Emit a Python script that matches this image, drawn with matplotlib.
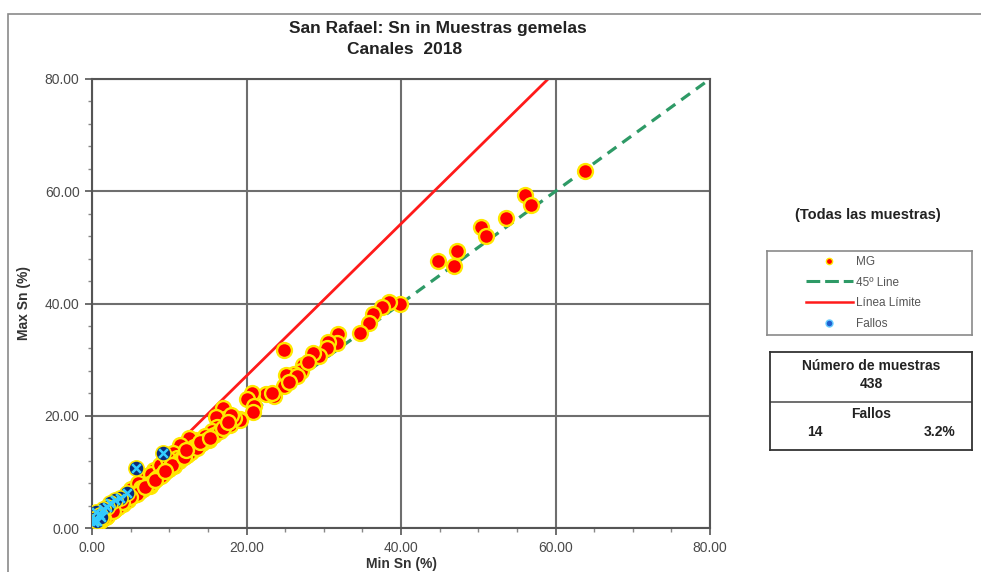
"""Sn en muestras gemelas (San Rafael, Canales 2018): dispersión Min vs Max."""

import matplotlib.pyplot as plt
from matplotlib.lines import Line2D
from matplotlib.patches import Rectangle
from matplotlib.ticker import MultipleLocator, FormatStrFormatter

plt.rcParams["font.family"] = ["Liberation Sans", "DejaVu Sans"]

# pares gemelos (min, max) de Sn en %
mg_min = [63.8, 56.1, 56.8, 53.6, 50.4, 51.0, 47.3, 44.8, 46.9, 39.9, 38.4, 37.5,
          36.4, 35.8, 34.7, 31.9, 31.7, 30.6, 30.4, 29.4, 28.6, 24.8, 27.3, 27.0,
          26.1, 25.1, 24.8, 23.5, 22.5, 20.7, 20.0, 21.0, 20.8, 19.2, 17.0, 17.2,
          16.1, 17.9, 16.2, 15.5, 15.1, 13.3, 12.5, 13.2, 11.8, 12.3, 23.3, 19.2,
          11.4, 10.5, 8.2, 9.7, 11.0, 7.5, 6.0, 28.0, 26.5, 25.5,
          10.0, 10.8, 9.0, 8.6, 9.4, 7.9, 7.2, 6.8, 6.5, 7.0, 8.0, 5.6, 5.2, 4.8,
          4.2, 3.8, 3.2, 2.8, 2.4, 2.0, 1.6, 1.2, 0.8, 0.5, 0.2, 0.1, 0.4, 1.0,
          1.5, 2.6, 3.5, 4.4, 5.0, 5.9, 6.3, 7.6, 8.8, 9.8, 10.2, 11.2, 12.0, 12.8,
          13.8, 14.2, 14.6, 15.8, 16.6, 18.4, 18.0, 13.0, 3.0, 4.0, 5.4, 6.6, 9.2,
          1.8, 2.2,
          6.2, 7.4, 8.4, 9.6, 10.6, 11.6, 12.6, 4.6, 3.4, 2.0, 1.0, 0.6, 5.8, 7.8,
          8.9, 10.4, 11.9, 13.6, 14.9, 4.9, 3.9, 2.7, 1.4, 0.3, 6.9, 8.1, 9.5, 12.2,
          14.0, 15.3, 16.9, 17.6]
mg_max = [63.6, 59.3, 57.5, 55.2, 53.6, 52.0, 49.4, 47.6, 46.7, 39.9, 40.3, 39.4,
          38.2, 36.6, 34.8, 34.5, 33.0, 33.2, 32.0, 30.6, 31.2, 31.8, 29.0, 28.0,
          27.4, 27.3, 25.3, 23.5, 23.9, 24.0, 22.9, 21.7, 20.7, 19.4, 21.3, 19.5,
          19.7, 18.4, 18.0, 17.2, 15.7, 15.7, 16.0, 14.5, 13.9, 13.0, 24.0, 19.2,
          14.8, 13.3, 9.1, 11.2, 12.4, 7.4, 6.8, 29.5, 27.0, 26.0,
          10.6, 11.5, 10.0, 9.6, 10.8, 8.8, 8.3, 7.6, 8.2, 9.2, 10.4, 6.4, 6.0, 5.4,
          4.8, 4.4, 3.8, 3.2, 2.8, 2.3, 1.9, 1.5, 1.0, 0.6, 0.3, 0.1, 0.9, 1.6,
          2.5, 3.6, 4.9, 5.9, 7.0, 8.0, 7.1, 9.6, 11.3, 12.3, 11.0, 12.0, 12.8, 13.6,
          14.8, 15.1, 16.4, 16.6, 17.2, 19.6, 20.2, 14.0, 3.3, 4.3, 5.8, 7.0, 9.6,
          2.0, 2.6,
          6.6, 7.9, 8.9, 10.2, 11.1, 12.4, 13.3, 5.0, 3.7, 2.2, 1.2, 0.8, 6.1, 8.1,
          9.3, 11.3, 12.7, 14.3, 15.6, 5.5, 4.6, 3.0, 1.7, 0.5, 7.3, 8.6, 10.1, 13.9,
          15.4, 16.1, 17.8, 18.9]

# pares fuera de la línea límite
fallo_min = [9.2, 5.7, 4.5, 3.6, 3.0, 2.3, 1.9, 1.4, 0.5, 1.0, 0.3, 0.2, 0.6, 1.2]
fallo_max = [13.3, 10.7, 6.3, 5.3, 4.9, 4.5, 3.8, 3.3, 2.9, 2.3, 1.6, 1.0, 1.3, 1.9]

limite_pendiente = 1.355
eje_max = 80.0

n_muestras = 438
n_fallos = 14
pct_fallos = 3.2

W, H = 981, 572
fig = plt.figure(figsize=(W / 100, H / 100), dpi=100)


def fx(px):
    return px / W


def fy(py):
    return 1 - py / H


# marco exterior del gráfico
fig.patches.append(Rectangle((fx(8), -0.05), 1.1, fy(14) + 0.05, transform=fig.transFigure,
                             fill=False, edgecolor="#8a8a8a", linewidth=1.2))

ax = fig.add_axes([fx(92), fy(528), fx(710) - fx(92), fy(79) - fy(528)])

gris = "#555555"
ax.plot([0, eje_max], [0, eje_max], color="#2e9a66", linewidth=2.3,
        dashes=(3.4, 2.3), zorder=2)
ax.plot([0, eje_max / limite_pendiente], [0, eje_max], color="#ff1a1a",
        linewidth=2.0, zorder=2)
ax.scatter(mg_min, mg_max, s=115, facecolor="#ff0000", edgecolor="#ffe800",
           linewidth=1.7, zorder=3)
ax.scatter(fallo_min, fallo_max, s=120, facecolor="#0b2a7a", edgecolor="#ffe800",
           linewidth=1.2, zorder=4)
ax.scatter(fallo_min, fallo_max, s=40, marker="x", color="#33ccff",
           linewidth=1.8, zorder=5)

ax.set_xlim(0, eje_max)
ax.set_ylim(0, eje_max)
ax.xaxis.set_major_locator(MultipleLocator(20))
ax.yaxis.set_major_locator(MultipleLocator(20))
ax.xaxis.set_minor_locator(MultipleLocator(5))
ax.yaxis.set_minor_locator(MultipleLocator(4))
ax.xaxis.set_major_formatter(FormatStrFormatter("%.2f"))
ax.yaxis.set_major_formatter(FormatStrFormatter("%.2f"))
ax.grid(True, which="major", color="#6e6e6e", linewidth=1.5, zorder=1)
ax.set_axisbelow(True)
ax.tick_params(which="major", direction="out", length=5, width=1.2, color=gris,
               labelsize=10, labelcolor="#4a4a4a", pad=4)
ax.tick_params(which="minor", direction="out", length=3, width=1.0, color="#888888")
for sp in ax.spines.values():
    sp.set_color(gris)
    sp.set_linewidth(1.5)

ax.set_xlabel("Min Sn (%)", fontsize=10, fontweight="bold", color="#333333", labelpad=2)
ax.set_ylabel("Max Sn (%)", fontsize=10, fontweight="bold", color="#333333", labelpad=10)

titulo = ["DejaVu Sans Condensed", "Liberation Sans", "DejaVu Sans"]
fig.text(fx(438), fy(29), "San Rafael: Sn in Muestras gemelas", ha="center", va="center",
         fontsize=12.5, fontweight="bold", family=titulo, color="#222222")
fig.text(fx(405), fy(50), "Canales  2018", ha="center", va="center",
         fontsize=12.5, fontweight="bold", family=titulo, color="#222222")

fig.text(fx(868), fy(215), "(Todas las muestras)", ha="center", va="center",
         fontsize=10.5, fontweight="bold", color="#222222")

# caja de leyenda
lax = fig.add_axes([fx(767), fy(335), fx(972) - fx(767), fy(251) - fy(335)])
lax.set_xticks([])
lax.set_yticks([])
for sp in lax.spines.values():
    sp.set_color("#8a8a8a")
    sp.set_linewidth(1.2)
handles = [
    Line2D([], [], linestyle="none", marker="o", markersize=4.5,
           markerfacecolor="#ff0000", markeredgecolor="#ffe800", markeredgewidth=1.0),
    Line2D([], [], color="#2e9a66", linewidth=2.2, dashes=(4.5, 1.6)),
    Line2D([], [], color="#ff1a1a", linewidth=1.8),
    Line2D([], [], linestyle="none", marker="o", markersize=5,
           markerfacecolor="#1f5fd0", markeredgecolor="#66ccff", markeredgewidth=1.0),
]
etiquetas = ["MG", "45º Line", "Línea Límite", "Fallos"]
lax.legend(handles, etiquetas, loc="center", frameon=False, fontsize=8.5,
           labelcolor="#555555", handlelength=4.0, handletextpad=0.3,
           labelspacing=0.75, bbox_to_anchor=(0.47, 0.5))

# tabla de resumen
tax = fig.add_axes([fx(770), fy(450), fx(972) - fx(770), fy(352) - fy(450)])
tax.set_xlim(0, 1)
tax.set_ylim(0, 1)
tax.set_xticks([])
tax.set_yticks([])
for sp in tax.spines.values():
    sp.set_color("#333333")
    sp.set_linewidth(1.3)
tax.axhline(0.49, color="#555555", linewidth=1.2)
kw = dict(fontsize=10, fontweight="bold", color="#222222", va="center")
tax.text(0.5, 0.86, "Número de muestras", ha="center", **kw)
tax.text(0.5, 0.67, f"{n_muestras}", ha="center", **kw)
tax.text(0.5, 0.37, "Fallos", ha="center", **kw)
tax.text(0.22, 0.18, f"{n_fallos}", ha="center", **kw)
tax.text(0.92, 0.18, f"{pct_fallos:.1f}%", ha="right", **kw)

fig.savefig("out.png", dpi=100)
